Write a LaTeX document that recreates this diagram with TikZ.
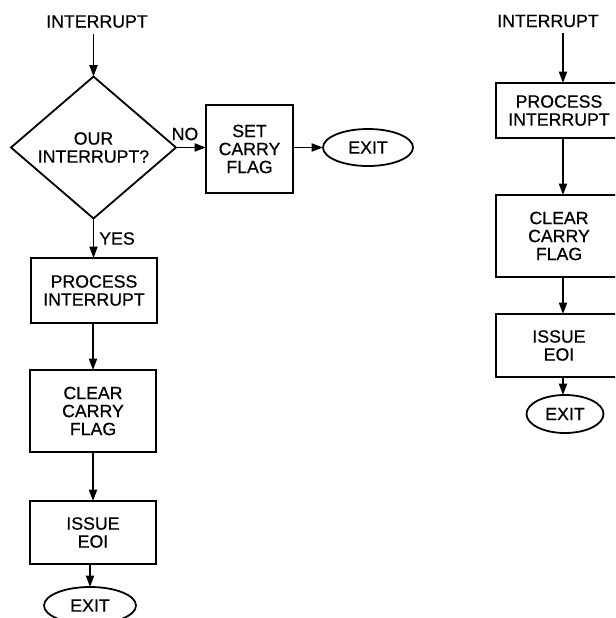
\documentclass[tikz,border=0pt]{standalone}
\usepackage{fontspec}
\setmainfont{Liberation Sans}[FakeBold=0.6]
\usetikzlibrary{arrows.meta,shapes.geometric}
\begin{document}
\begin{tikzpicture}[x=0.75pt,y=-0.75pt,
  every node/.style={font=\fontsize{13.3}{13.5}\selectfont, align=center, inner sep=0pt, outer sep=0pt},
  box/.style={draw, line width=1.35pt, rectangle},
  decision/.style={draw, line width=1.35pt, diamond},
  term/.style={draw, line width=1.35pt, ellipse},
  flow/.style={line width=1.35pt, -{Triangle[length=8.5pt,width=6pt]}}]
\useasboundingbox (0,0) rectangle (615,618);
\clip (0,0) rectangle (615,618);

% ---- left chart: decision first ----
\node (intA) at (97,21.5) {INTERRUPT};
\node[decision, minimum width=123.75pt, minimum height=98.25pt] (decA) at (93.5,147.5) {OUR\\INTERRUPT?};
\node[box, minimum width=65.25pt, minimum height=66pt] (setA) at (249.5,149) {SET\\CARRY\\FLAG};
\node[term, minimum width=67.5pt, minimum height=27.75pt] (exitA) at (368,147.5) {EXIT};
\node[box, minimum width=94.5pt, minimum height=48.75pt] (procA) at (94,290.5) {PROCESS\\INTERRUPT};
\node[box, minimum width=94.5pt, minimum height=61.5pt] (clrA) at (93,411) {CLEAR\\CARRY\\FLAG};
\node[box, minimum width=94.5pt, minimum height=47.25pt] (eoiA) at (93,532.5) {ISSUE\\EOI};
\node[term, minimum width=69pt, minimum height=27.75pt] (endA) at (90,605.5) {EXIT};
\node (no) at (185,134) {NO};
\node (yes) at (117,238.5) {YES};

\draw[flow] (intA.south -| decA.north) ++(0,6) -- (decA.north);
\draw[flow] (decA.east) -- (decA.east -| setA.west);
\draw[flow] (setA.east |- exitA.west) -- (exitA.west);
\draw[flow] (decA.south) -- (decA.south |- procA.north);
\draw[flow] (procA.south -| clrA.north) -- (clrA.north);
\draw[flow] (clrA.south) -- (eoiA.north);
\draw[flow] (eoiA.south -| endA.north) -- (endA.north);

% ---- right chart: straight sequence ----
\node (intB) at (548,21) {INTERRUPT};
\node[box, minimum width=94.5pt, minimum height=41.25pt] (procB) at (559,110.5) {PROCESS\\INTERRUPT};
\node[box, minimum width=94.5pt, minimum height=61.5pt] (clrB) at (559,236) {CLEAR\\CARRY\\FLAG};
\node[box, minimum width=94.5pt, minimum height=47.25pt] (eoiB) at (559,345.5) {ISSUE\\EOI};
\node[term, minimum width=57.75pt, minimum height=28.5pt] (endB) at (565,414) {EXIT};

\coordinate (cB) at (563,0);
\draw[flow] (intB.south -| cB) ++(0,6) -- (procB.north -| cB);
\draw[flow] (procB.south -| cB) -- (clrB.north -| cB);
\draw[flow] (clrB.south -| cB) -- (eoiB.north -| cB);
\draw[flow] (eoiB.south -| cB) -- (endB.north -| cB);
\end{tikzpicture}
\end{document}
